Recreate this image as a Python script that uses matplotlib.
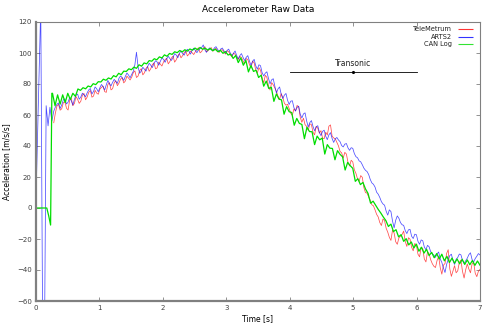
import matplotlib
matplotlib.use('Agg')
import matplotlib.pyplot as plt
import numpy as np

# TeleMetrum accelerometer, m/s/s
telemetrum = [
    55, 61.2, 65.8, 66.9, 63.1, 64.0, 67.9, 68.6, 64.4, 63.2, 69.6, 70.8, 66.0, 67.5, 71.9, 70.1, 67.5, 68.9, 72.8, 73.9,
    69.8, 71.6, 74.6, 75.8, 71.5, 72.2, 75.9, 74.1, 73.4, 76.7, 77.8, 78.6, 75.1, 74.6, 79.6, 80.9, 76.2, 77.0, 80.8, 82.1,
    78.9, 80.6, 83.2, 84.1, 80.7, 81.9, 85.1, 83.9, 82.6, 84.4, 87.3, 88.5, 84.2, 85.1, 88.6, 89.9, 85.9, 87.2, 90.1, 91.3,
    88.2, 89.9, 92.5, 93.6, 89.8, 90.4, 94.1, 92.8, 91.6, 94.2, 95.7, 96.6, 93.0, 94.5, 96.8, 98.0, 94.1, 95.6, 98.2, 99.5,
    96.9, 98.3, 100.2, 101.4, 98.1, 99.2, 101.3, 100.2, 99.0, 100.8, 102.2, 103.4, 100.1, 101.0, 103.0, 104.1, 100.8, 101.5, 102.6, 103.5,
    101.1, 102.4, 103.0, 101.2, 100.4, 101.9, 102.1, 100.6, 99.3, 101.4, 100.9, 98.7, 97.6, 99.9, 99.2, 97.4, 95.8, 97.8, 97.1, 94.8,
    93.1, 96.4, 95.8, 92.6, 90.4, 94.8, 93.6, 89.1, 87.2, 90.5, 88.9, 83.9, 80.7, 85.6, 84.3, 78.8, 76.1, 80.9, 79.5, 77.3,
    75.2, 72.1, 70.1, 73.8, 71.4, 67.6, 66.3, 66.9, 64.2, 61.1, 59.8, 63.9, 62.7, 66.2, 65.1, 58.4, 55.3, 57.9, 53.8, 52.6,
    50.1, 54.3, 53.8, 48.9, 47.2, 52.6, 51.5, 48.3, 49.9, 45.1, 44.7, 48.9, 47.1, 52.8, 53.6, 46.4, 45.2, 44.6, 42.4, 40.1,
    36.5, 35.6, 32.2, 35.9, 34.8, 29.4, 27.1, 30.8, 29.7, 24.6, 22.3, 18.8, 17.2, 20.9, 19.8, 13.1, 9.9, 9.6, 7.1, 4.9,
    2.1, 1.4, -1.2, -4.1, -5.8, -9.4, -11.3, -7.1, -8.2, -13.1, -15.6, -18.9, -20.9, -14.3, -16.1, -21.8, -23.4, -19.3, -18.2, -17.1,
    -14.9, -21.6, -24.8, -19.2, -20.1, -25.3, -27.6, -22.9, -23.9, -29.8, -31.5, -25.4, -26.2, -32.9, -34.8, -28.3, -29.6, -33.4, -35.9, -37.6,
    -38.4, -33.9, -31.2, -38.5, -42.7, -36.9, -35.8, -29.4, -26.9, -39.2, -44.1, -40.6, -37.2, -41.8, -40.5, -35.1, -33.6, -40.9, -45.2, -39.8,
    -36.1, -39.4, -41.8, -36.2, -34.9, -42.1, -44.3, -40.8, -39.6,
]

# ARTS2 accelerometer: launch transient, then the logged flight
arts2_start_t = [0.0, 0.075, 0.105, 0.135, 0.16, 0.19, 0.22, 0.25]
arts2_start = [6, 130, -80, -80, 66, 53, 65, 56]
arts2 = [
    62.5, 65.1, 66.9, 67.8, 64.2, 66.5, 69.8, 70.4, 67.1, 68.3, 71.3, 69.2, 66.4, 70.1, 72.9, 73.5, 70.2, 71.6, 74.1, 72.9,
    71.8, 74.3, 76.2, 77.1, 73.6, 75.2, 78.1, 76.9, 75.0, 77.6, 79.7, 78.3, 76.1, 79.4, 82.3, 80.2, 78.8, 81.1, 83.0, 81.6,
    80.4, 83.7, 85.2, 84.1, 82.3, 84.9, 87.1, 85.8, 84.0, 86.2, 88.2, 92.4, 100.5, 91.1, 86.9, 88.3, 90.8, 89.6, 88.3, 91.2,
    93.4, 92.1, 90.6, 93.3, 95.0, 94.2, 92.1, 94.6, 96.8, 95.9, 94.0, 96.3, 97.9, 96.4, 95.2, 97.1, 99.6, 98.7, 96.9, 99.8,
    101.3, 99.6, 98.6, 100.9, 102.4, 101.1, 99.3, 101.8, 103.1, 101.6, 100.2, 101.9, 102.8, 103.6, 105.2, 102.1, 100.4, 102.2, 103.3, 102.0,
    101.6, 103.3, 104.1, 102.4, 100.9, 102.6, 103.2, 101.4, 99.8, 101.7, 102.5, 100.0, 98.1, 99.8, 101.3, 98.4, 96.2, 98.3, 99.6, 97.2,
    95.1, 97.2, 98.3, 94.9, 92.0, 94.6, 95.9, 91.8, 89.6, 92.4, 91.8, 87.3, 85.2, 87.0, 87.9, 83.6, 80.1, 82.7, 83.4, 78.6,
    74.2, 76.9, 78.1, 73.4, 70.6, 72.8, 73.9, 69.5, 66.8, 68.9, 69.2, 64.8, 62.5, 64.9, 65.7, 60.4, 58.1, 60.7, 61.4, 56.2,
    52.3, 55.1, 56.4, 52.6, 49.8, 52.4, 53.1, 48.8, 46.7, 49.4, 50.2, 46.3, 44.1, 47.2, 48.6, 44.9, 42.3, 44.6, 45.5, 43.9,
    42.8, 40.3, 39.4, 41.2, 41.6, 38.8, 37.2, 38.9, 38.5, 35.1, 33.1, 32.4, 30.4, 29.8, 27.9, 25.7, 24.3, 23.5, 21.6, 18.4,
    16.2, 15.3, 13.5, 10.2, 8.9, 6.8, 4.1, 2.6, 1.8, -2.1, -4.6, -1.2, -2.3, -8.4, -12.8, -7.9, -5.1, -6.6, -9.4, -10.8,
    -11.2, -14.6, -16.5, -14.1, -13.8, -18.2, -19.7, -16.9, -17.2, -21.5, -23.4, -20.6, -21.1, -25.2, -26.9, -24.1, -25.0, -28.3, -29.6, -30.4,
    -31.8, -29.6, -28.4, -32.9, -35.1, -38.7, -41.6, -36.4, -33.2, -30.7, -29.8, -33.9, -36.4, -33.1, -31.9, -29.7, -30.2, -33.8, -35.7, -34.1,
    -32.4, -30.1, -28.9, -33.2, -34.8, -32.6, -31.1, -29.4, -30.3,
]

# CAN bus log: pad reading, then flight samples
can_start_t = [0.0, 0.17, 0.2, 0.23, 0.25]
can_start = [0, 0, -5, -11, 74]
can_log = [
    74, 66, 73, 67, 73, 68, 74, 70, 74, 72,
    76.8, 75.9, 77.6, 76.9, 78.7, 78.1, 80.2, 79.6, 81.5, 81.3,
    83.1, 82.4, 83.9, 83.2, 85.4, 84.6, 86.9, 86.0, 88.3, 88.1,
    89.8, 89.2, 90.9, 90.1, 92.4, 91.5, 93.6, 93.0, 95.1, 94.7,
    96.3, 95.6, 97.5, 96.8, 98.8, 97.9, 99.7, 99.1, 100.8, 100.2,
    101.6, 100.7, 102.1, 101.2, 102.6, 101.8, 103.2, 102.1, 103.6, 102.4,
    103.1, 101.9, 102.9, 101.5, 102.4, 100.8, 101.7, 99.8, 100.9, 98.7,
    99.3, 96.5, 98.4, 93.8, 96.9, 92.1, 95.2, 87.8, 91.9, 88.1,
    88.9, 84.2, 85.7, 78.6, 81.9, 77.1, 77.9, 68.8, 73.6, 70.2,
    69.8, 60.5, 65.4, 62.1, 61.6, 53.4, 57.8, 54.6, 53.9, 44.7,
    52.1, 49.3, 49.2, 40.9, 46.4, 44.0, 45.1, 34.8, 40.9, 38.6,
    38.4, 31.1, 37.0, 34.6, 33.0, 24.5, 29.4, 27.3, 25.6, 17.2,
    18.9, 15.1, 16.5, 12.3, 9.4, 3.1, 4.4, 1.8, -0.9, -3.2,
    -5.8, -8.1, -11.9, -10.4, -15.2, -14.0, -18.6, -17.2, -21.5, -19.8,
    -23.8, -21.9, -25.8, -23.3, -27.9, -25.3, -29.1, -26.6, -30.7, -28.6,
    -32.1, -29.4, -32.9, -29.8, -34.1, -31.2, -35.2, -32.3, -35.6, -32.9,
    -36.0, -33.1, -36.4, -33.5, -36.6, -33.9, -37.0, -34.2, -36.9,
]

transonic_start, transonic_end, transonic_level = 4.0, 6.0, 88

t_tm = np.linspace(0.28, 7.0, len(telemetrum))
t_arts = np.concatenate([arts2_start_t, np.linspace(0.28, 7.0, len(arts2))])
y_arts = np.concatenate([arts2_start, arts2])
t_can = np.concatenate([can_start_t, np.linspace(0.26, 7.0, len(can_log))])
y_can = np.concatenate([can_start, can_log])

red = '#ff0000'
blue = '#0000ff'
green = '#00dd00'
grey = '#808080'

fig = plt.figure(figsize=(4.88, 3.25), dpi=100)
ax = fig.add_axes([36 / 488, 24 / 325, 444 / 488, 279 / 325])

ax.plot(t_tm, telemetrum, color=red, lw=0.55, alpha=0.7)
ax.plot(t_arts, y_arts, color=blue, lw=0.55, alpha=0.7)
ax.plot(t_can, y_can, color=green, lw=0.9)

# transonic region marker
ax.plot([transonic_start, transonic_end], [transonic_level] * 2, color='black', lw=0.6)
ax.plot([(transonic_start + transonic_end) / 2], [transonic_level], 'k.', ms=2.5)
ax.text((transonic_start + transonic_end) / 2, transonic_level + 2, 'Transonic',
        ha='center', va='bottom', fontsize=5.5, color='#202020')

ax.set_xlim(0, 7)
ax.set_ylim(-60, 120)
ax.set_xticks(range(0, 8))
ax.set_yticks(range(-60, 121, 20))
ax.tick_params(direction='in', length=3, width=0.6, colors=grey, labelsize=5,
               labelcolor='#404040', top=True, right=True, pad=3)

for side in ['left', 'bottom']:
    ax.spines[side].set_color(grey)
    ax.spines[side].set_linewidth(1.6)
for side in ['top', 'right']:
    ax.spines[side].set_color(grey)
    ax.spines[side].set_linewidth(0.8)

ax.set_title('Accelerometer Raw Data', fontsize=6.5, pad=7)
ax.set_xlabel('Time [s]', fontsize=5.5, labelpad=2)
ax.set_ylabel('Acceleration [m/s/s]', fontsize=5.5, labelpad=4)

# gnuplot style key: right aligned text, sample line after it
key = [('TeleMetrum', red), ('ARTS2', blue), ('CAN Log', green)]
for i, (name, col) in enumerate(key):
    yk = 0.974 - i * 0.027
    ax.text(0.937, yk, name, transform=ax.transAxes, ha='right', va='center',
            fontsize=4.8, color='#202020')
    ax.plot([0.95, 0.984], [yk, yk], transform=ax.transAxes, color=col,
            lw=0.8, alpha=0.8, solid_capstyle='butt')

fig.savefig('out.png', dpi=100)
